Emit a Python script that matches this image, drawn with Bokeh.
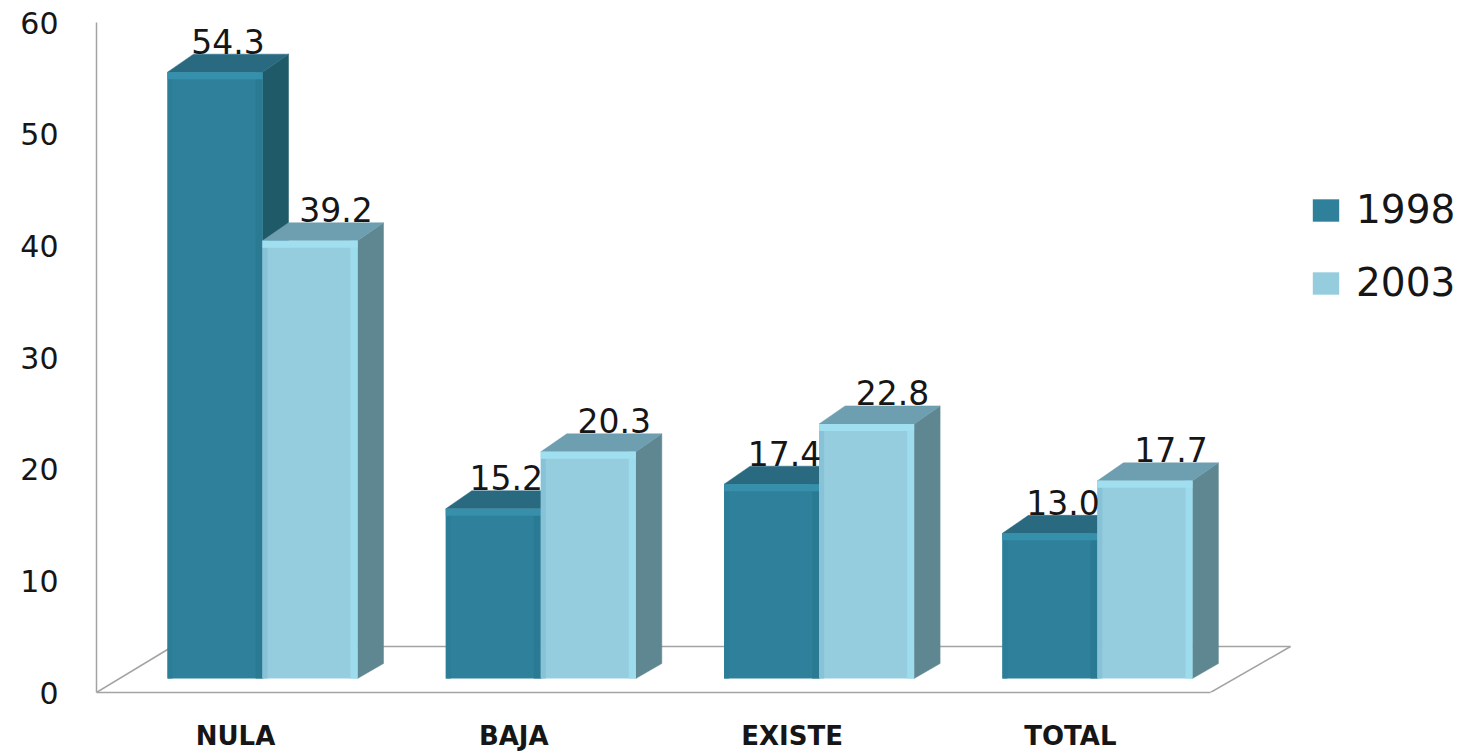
from bokeh.plotting import figure
from bokeh.models import Range1d, FixedTicker, Legend, LegendItem
from bokeh.embed import file_html
from bokeh.resources import INLINE
from bokeh.core.properties import value

categories = ["NULA", "BAJA", "EXISTE", "TOTAL"]
series_names = ["1998", "2003"]
values_1998 = [54.3, 15.2, 17.4, 13.0]
values_2003 = [39.2, 20.3, 22.8, 17.7]
y_ticks = [0, 10, 20, 30, 40, 50, 60]

# layout, pixel to data scale
PX_X = 278.3
PX_Y = 670 / 60
FONT = "DejaVu Sans"
INK = "#161616"
ux = lambda px: px / PX_X
uy = lambda px: px / PX_Y

BASE = uy(14)            # front plane of the bars sits above the axis floor
BAR_W = ux(95)
DX, DY = ux(26), uy(18)
DY_BASE = uy(15)

p = figure(width=1459, height=753, output_backend="svg", toolbar_location=None,
           x_range=Range1d(ux(96 - 262), ux(1459 - 262)), y_range=Range1d(0, 60),
           min_border_left=96, min_border_right=0, min_border_top=22, min_border_bottom=61,
           outline_line_color=None, background_fill_color="white", border_fill_color="white")
p.grid.visible = False

# floor
GRAY = "#a3a3a3"
x_front_r = ux(1210 - 262)
x_left = ux(96 - 262)
floor_dx_l, floor_dx_r, floor_dy = ux(76), ux(80), uy(46)
p.multi_line([[x_left, x_left + floor_dx_l], [x_left + floor_dx_l, x_front_r + floor_dx_r],
              [x_front_r + floor_dx_r, x_front_r]],
             [[0, floor_dy], [floor_dy, floor_dy], [floor_dy, 0]],
             line_color=GRAY, line_width=1.5)

styles = [
    dict(main="#2f819b", top="#2a6a80", side="#1f5a69", hi="#3690ab", left="#2c7d97", right="#2b7a94", off=-BAR_W, lab=ux(13)),
    dict(main="#95cddf", top="#6e9fb0", side="#5f8791", hi="#a0dff0", left="#88c2d6", right="#9cdcec", off=0.0, lab=ux(26)),
]

legend_items = []
for vals, st, name in zip([values_1998, values_2003], styles, series_names):
    l = [i + st["off"] for i in range(len(categories))]
    r = [a + BAR_W for a in l]
    t = [BASE + v for v in vals]
    b = [BASE] * len(vals)
    # side and top faces
    p.patches([[a, a + DX, a + DX, a] for a in r],
              [[tt, tt + DY, BASE + DY_BASE, BASE] for tt in t],
              fill_color=st["side"], line_color=st["side"], line_width=0.5)
    p.patches([[a, a + DX, c + DX, c] for a, c in zip(l, r)],
              [[tt, tt + DY, tt + DY, tt] for tt in t],
              fill_color=st["top"], line_color=st["top"], line_width=0.5)
    # front face with bevels
    front = p.quad(left=l, right=r, top=t, bottom=b, fill_color=st["main"], line_color=None)
    p.quad(left=l, right=[a + ux(5) for a in l], top=t, bottom=b, fill_color=st["left"], line_color=None)
    p.quad(left=[a - ux(7) for a in r], right=r, top=t, bottom=b, fill_color=st["right"], line_color=None)
    p.quad(left=l, right=r, top=t, bottom=[tt - uy(7) for tt in t], fill_color=st["hi"], line_color=None)
    legend_items.append(LegendItem(label=name, renderers=[front]))

# value labels
for vals, st in zip([values_1998, values_2003], styles):
    xs = [i + st["off"] + BAR_W / 2 + st["lab"] for i in range(len(categories))]
    ys = [BASE + v for v in vals]
    p.text(xs, ys, text=[f"{v:.1f}" for v in vals], text_align="center", text_baseline="alphabetic",
           y_offset=-31, text_font=value(FONT), text_font_size="33px", text_color=INK)

# axes
p.yaxis.ticker = FixedTicker(ticks=y_ticks)
p.yaxis.major_tick_line_color = None
p.yaxis.minor_tick_line_color = None
p.yaxis.axis_line_color = GRAY
p.yaxis.axis_line_width = 1.5
p.yaxis.major_label_text_font = FONT
p.yaxis.major_label_text_font_size = "30px"
p.yaxis.major_label_text_color = INK
p.yaxis.major_label_standoff = 32

tick_shift = ux(-27)
p.xaxis.ticker = FixedTicker(ticks=[i + tick_shift for i in range(len(categories))])
p.xaxis.major_label_overrides = {i + tick_shift: c for i, c in enumerate(categories)}
p.xaxis.bounds = (x_left, x_front_r)
p.xaxis.major_tick_line_color = None
p.xaxis.minor_tick_line_color = None
p.xaxis.axis_line_color = GRAY
p.xaxis.axis_line_width = 1.5
p.xaxis.major_label_text_font = FONT
p.xaxis.major_label_text_font_style = "bold"
p.xaxis.major_label_text_font_size = "26px"
p.xaxis.major_label_text_color = INK
p.xaxis.major_label_standoff = 22

legend = Legend(items=legend_items, location=(1213, 387),
                orientation="vertical", glyph_width=33, glyph_height=28,
                label_standoff=14, spacing=28, padding=0, margin=0,
                label_text_font=FONT, label_text_font_size="39px", label_text_color=INK,
                background_fill_alpha=0, border_line_color=None,
                label_height=42)
p.add_layout(legend, "center")

open("out.html", "w").write(file_html(p, INLINE))
